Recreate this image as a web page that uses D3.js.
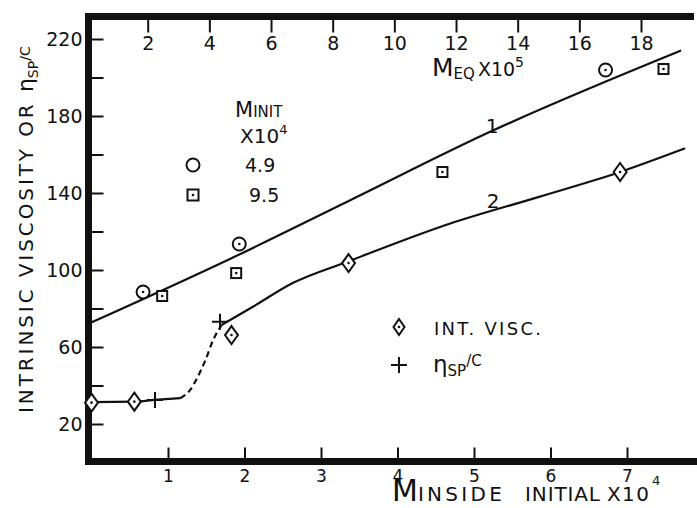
<!DOCTYPE html>
<html lang="en">
<head>
	<meta charset="utf-8">
	<title>Intrinsic viscosity</title>
	<style>
		body { margin: 0; background: #fff; }
		svg { display: block; }
		text { font-family: 'DejaVu Sans', sans-serif; fill: #111; }
		.axis path.domain { display: none; }
		.axis line { stroke: #111; stroke-width: 2; }
		.axis text { font-size: 19px; fill: #111; font-family: 'DejaVu Sans', sans-serif; }
		.curve { fill: none; stroke: #111; stroke-width: 2.2; }
		.mark { fill: #fff; stroke: #111; stroke-width: 2; }
	</style>
</head>
<body>
	<svg width="697" height="508"></svg>

	<script src="https://d3js.org/d3.v7.min.js"></script>
	<script>
		// ticks
		var yTicks = [20, 40, 60, 80, 100, 120, 140, 160, 180, 200, 220];
		var yLabelled = [20, 60, 100, 140, 180, 220];
		var bottomTicks = [1, 2, 3, 4, 5, 6, 7];
		var topTicks = [2, 4, 6, 8, 10, 12, 14, 16, 18];

		// curve 1 : against M_EQ x10^5 (top axis)
		var circleEq = [1.85, 4.97, 16.85];
		var circleVisc = [88.6, 113.5, 203.9];
		var squareEq = [2.47, 4.87, 11.56, 18.73];
		var squareVisc = [86.5, 98.4, 150.9, 204.4];
		var curve1Eq = [0, 4.7, 8.6, 13, 19.3];
		var curve1Visc = [71.5, 106, 136.5, 171, 214];

		// curve 2 : against M inside initial x10^4 (bottom axis)
		var diamondM = [0, 0.56, 1.83, 3.36, 6.91];
		var diamondVisc = [31.1, 31.6, 66.2, 103.6, 150.9];
		var plusM = [0.83, 1.68];
		var plusVisc = [32.5, 73.1];
		var curve2aM = [0, 0.56, 0.83, 1.16];
		var curve2aVisc = [31.4, 31.6, 32.5, 33.4];
		var curve2bM = [1.16, 1.29, 1.39, 1.49, 1.59, 1.70];
		var curve2bVisc = [33.4, 37.7, 44.6, 53.2, 63.6, 71.4];
		var curve2cM = [1.70, 2.11, 2.63, 3.36, 4.68, 5.85, 6.91, 7.76];
		var curve2cVisc = [71.4, 80.9, 93.2, 104.5, 124, 138, 150.9, 163.2];

		var svg = d3.select("svg");

		var y = d3.scaleLinear().domain([20, 220]).range([424, 39]);
		var xBottom = d3.scaleLinear().domain([1, 7]).range([168, 627]);
		var xTop = d3.scaleLinear().domain([2, 18]).range([147.7, 641]);

		var frameLeft = 88.5, frameTop = 16.5, frameBottom = 461.5;

		// left axis, ticks pointing inward
		svg.append("g")
			.attr("class", "axis")
			.attr("transform", "translate(" + frameLeft + ",0)")
			.call(d3.axisLeft(y).tickValues(yTicks).tickSize(-15).tickPadding(6)
				.tickFormat(function(d) { return yLabelled.indexOf(d) >= 0 ? d : ""; }));

		// bottom axis, ticks pointing up
		svg.append("g")
			.attr("class", "axis")
			.attr("transform", "translate(0," + frameBottom + ")")
			.call(d3.axisBottom(xBottom).tickValues(bottomTicks).tickSize(-14).tickPadding(8)
				.tickFormat(d3.format("d")))
			.selectAll("text").style("font-size", "17px");

		// top axis, ticks and labels below the frame line
		svg.append("g")
			.attr("class", "axis")
			.attr("transform", "translate(0," + frameTop + ")")
			.call(d3.axisBottom(xTop).tickValues(topTicks).tickSize(16).tickPadding(4));

		// heavy frame
		var frame = svg.append("g").attr("stroke", "#111").attr("stroke-width", 7).attr("fill", "none");
		frame.append("line").attr("x1", frameLeft).attr("x2", frameLeft).attr("y1", 13).attr("y2", 465);
		frame.append("line").attr("x1", 85).attr("x2", 694).attr("y1", frameTop).attr("y2", frameTop);
		frame.append("line").attr("x1", 85).attr("x2", 697).attr("y1", frameBottom).attr("y2", frameBottom);

		// curves
		var line1 = d3.line()
			.x(function(d) { return xTop(d[0]); })
			.y(function(d) { return y(d[1]); })
			.curve(d3.curveMonotoneX);
		var line2 = d3.line()
			.x(function(d) { return xBottom(d[0]); })
			.y(function(d) { return y(d[1]); })
			.curve(d3.curveMonotoneX);

		svg.append("path").attr("class", "curve").attr("d", line1(d3.zip(curve1Eq, curve1Visc)));
		svg.append("path").attr("class", "curve").attr("d", line2(d3.zip(curve2aM, curve2aVisc)));
		svg.append("path").attr("class", "curve").attr("stroke-dasharray", "6,4")
			.attr("d", line2(d3.zip(curve2bM, curve2bVisc)));
		svg.append("path").attr("class", "curve").attr("d", line2(d3.zip(curve2cM, curve2cVisc)));

		// marker helpers
		function dot(g) {
			g.append("circle").attr("r", 1.3).attr("fill", "#111");
		}
		function circleMark(g, withDot) {
			g.append("circle").attr("class", "mark").attr("r", 6.5);
			if (withDot) dot(g);
		}
		function squareMark(g, s) {
			g.append("rect").attr("class", "mark").attr("x", -s / 2).attr("y", -s / 2).attr("width", s).attr("height", s);
			dot(g);
		}
		function diamondMark(g, w, h) {
			g.append("path").attr("class", "mark")
				.attr("d", "M0," + (-h / 2) + "L" + (w / 2) + ",0L0," + (h / 2) + "L" + (-w / 2) + ",0Z");
			dot(g);
		}
		function plusMark(g, s) {
			g.append("path").attr("fill", "none").attr("stroke", "#111").attr("stroke-width", 2)
				.attr("d", "M" + (-s / 2) + ",0H" + (s / 2) + "M0," + (-s / 2) + "V" + (s / 2));
		}

		d3.zip(circleEq, circleVisc).forEach(function(d) {
			circleMark(svg.append("g").attr("transform", "translate(" + xTop(d[0]) + "," + y(d[1]) + ")"), true);
		});
		d3.zip(squareEq, squareVisc).forEach(function(d) {
			squareMark(svg.append("g").attr("transform", "translate(" + xTop(d[0]) + "," + y(d[1]) + ")"), 10);
		});
		d3.zip(diamondM, diamondVisc).forEach(function(d) {
			diamondMark(svg.append("g").attr("transform", "translate(" + xBottom(d[0]) + "," + y(d[1]) + ")"), 13, 18);
		});
		d3.zip(plusM, plusVisc).forEach(function(d) {
			plusMark(svg.append("g").attr("transform", "translate(" + xBottom(d[0]) + "," + y(d[1]) + ")"), 16);
		});

		// curve numbers
		svg.append("text").attr("x", 492).attr("y", 133).attr("text-anchor", "middle").style("font-size", "20px").text("1");
		svg.append("text").attr("x", 493).attr("y", 208).attr("text-anchor", "middle").style("font-size", "20px").text("2");

		// legend: M_INIT x10^4
		var t = svg.append("text").attr("x", 235).attr("y", 117);
		t.append("tspan").style("font-size", "21px").text("M");
		t.append("tspan").style("font-size", "15px").text("INIT");
		t = svg.append("text").attr("x", 240).attr("y", 143);
		t.append("tspan").style("font-size", "20px").text("X10");
		t.append("tspan").style("font-size", "13px").attr("dy", -9).text("4");

		circleMark(svg.append("g").attr("transform", "translate(193,165)"), false);
		squareMark(svg.append("g").attr("transform", "translate(193,195)"), 11);
		svg.append("text").attr("x", 245).attr("y", 172).style("font-size", "19px").text("4.9");
		svg.append("text").attr("x", 249).attr("y", 202).style("font-size", "19px").text("9.5");

		// legend: symbols
		diamondMark(svg.append("g").attr("transform", "translate(399,327)"), 11, 16);
		plusMark(svg.append("g").attr("transform", "translate(399,365)"), 16);
		svg.append("text").attr("x", 434).attr("y", 335).style("font-size", "18px")
			.attr("textLength", 107).attr("lengthAdjust", "spacing").text("INT. VISC.");
		t = svg.append("text").attr("x", 433).attr("y", 372);
		t.append("tspan").style("font-size", "23px").text("η");
		t.append("tspan").style("font-size", "15px").attr("dy", 4).text("SP");
		t.append("tspan").style("font-size", "15px").attr("dy", -10).text("/C");

		// M_EQ x10^5 label
		t = svg.append("text").attr("x", 432).attr("y", 76);
		t.append("tspan").style("font-size", "25px").text("M");
		t.append("tspan").style("font-size", "15px").attr("dy", 3).text("EQ");
		t.append("tspan").style("font-size", "19px").attr("dx", 3).attr("dy", -3).text("X10");
		t.append("tspan").style("font-size", "14px").attr("dy", -9).text("5");

		// bottom axis title
		t = svg.append("text").attr("x", 392).attr("y", 501);
		t.append("tspan").style("font-size", "30px").text("M");
		t.append("tspan").style("font-size", "20px").attr("textLength", 84).attr("lengthAdjust", "spacing").text("INSIDE");
		t.append("tspan").style("font-size", "20px").attr("x", 525).attr("textLength", 75).attr("lengthAdjust", "spacing").text("INITIAL");
		t.append("tspan").style("font-size", "20px").attr("x", 607).attr("textLength", 42).attr("lengthAdjust", "spacing").text("X10");
		t.append("tspan").style("font-size", "13px").attr("x", 652).attr("dy", -16).text("4");

		// y axis title
		t = svg.append("text").attr("transform", "translate(33,413) rotate(-90)");
		t.append("tspan").style("font-size", "20px").attr("textLength", 318).attr("lengthAdjust", "spacing")
			.text("INTRINSIC VISCOSITY OR ");
		t.append("tspan").style("font-size", "22px").text("η");
		t.append("tspan").style("font-size", "14px").attr("dy", 5).text("SP");
		t.append("tspan").style("font-size", "14px").attr("dy", -8).text("/C");
	</script>
</body>
</html>
